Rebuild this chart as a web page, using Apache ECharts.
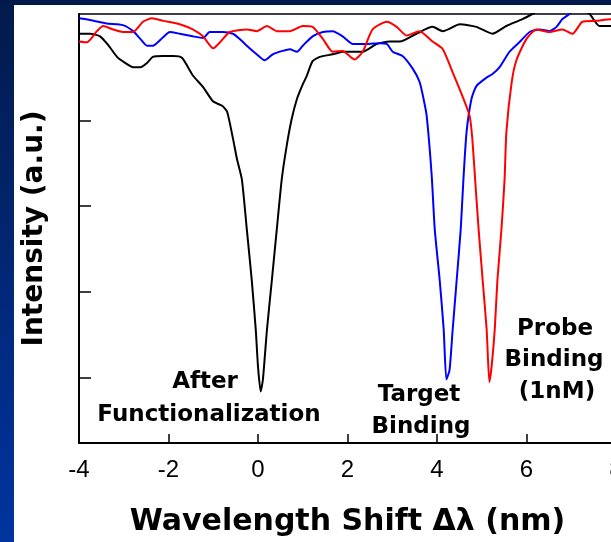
<!DOCTYPE html>
<html>
<head>
<meta charset="utf-8">
<script src="https://cdn.jsdelivr.net/npm/echarts@6.0.0/dist/echarts.min.js"></script>
<style>
  html, body { margin: 0; padding: 0; background: #fff; }
  #chart { width: 611px; height: 542px; }
</style>
</head>
<body>
<div id="chart"></div>
<script>
// wavelength shift (nm) vs intensity (a.u.)
var BLACK_X = [-4.00, -3.75, -3.53, -3.35, -3.15, -2.97, -2.79, -2.63, -2.48, -2.35,
  -2.12, -1.90, -1.70, -1.45, -1.23, -1.00, -0.80, -0.69, -0.56, -0.47,
  -0.36, -0.25, -0.14, -0.05, 0.00, 0.06, 0.11, 0.20, 0.31, 0.42,
  0.53, 0.64, 0.75, 0.87, 1.00, 1.09, 1.22, 1.38, 1.67, 1.89,
  2.34, 2.65, 2.94, 3.17, 3.54, 3.90, 4.13, 4.51, 4.88, 5.24,
  5.55, 5.91, 6.13, 6.40, 6.74, 7.07, 7.41, 7.63, 7.88, 8.01];
var BLACK_Y = [4.77, 4.77, 4.74, 4.64, 4.50, 4.43, 4.38, 4.38, 4.43, 4.50,
  4.51, 4.51, 4.49, 4.28, 4.15, 3.98, 3.93, 3.86, 3.55, 3.31,
  3.07, 2.49, 1.90, 1.32, 0.89, 0.60, 0.74, 1.32, 1.90, 2.49,
  3.07, 3.46, 3.77, 4.01, 4.18, 4.28, 4.45, 4.50, 4.53, 4.56,
  4.56, 4.65, 4.68, 4.68, 4.77, 4.85, 4.80, 4.88, 4.85, 4.77,
  4.86, 4.94, 5.00, 5.08, 5.12, 5.11, 5.00, 4.86, 4.86, 4.86];

var BLUE_X = [-4.00, -3.75, -3.38, -3.02, -2.79, -2.63, -2.48, -2.35, -2.12, -1.97,
  -1.75, -1.46, -1.23, -1.08, -0.79, -0.56, -0.41, -0.25, -0.03, 0.15,
  0.33, 0.55, 0.71, 0.87, 1.00, 1.22, 1.45, 1.67, 1.89, 2.12,
  2.43, 2.72, 2.88, 3.01, 3.23, 3.46, 3.61, 3.70, 3.77, 3.88,
  3.95, 4.06, 4.15, 4.21, 4.28, 4.35, 4.44, 4.53, 4.59, 4.66,
  4.77, 4.88, 5.11, 5.24, 5.40, 5.62, 5.84, 6.07, 6.29, 6.51,
  6.67, 6.80, 6.96, 7.18, 7.52, 8.01];
var BLUE_Y = [4.95, 4.93, 4.89, 4.87, 4.80, 4.71, 4.63, 4.63, 4.73, 4.79,
  4.77, 4.74, 4.72, 4.79, 4.79, 4.77, 4.71, 4.63, 4.53, 4.46,
  4.53, 4.57, 4.59, 4.56, 4.63, 4.74, 4.79, 4.80, 4.74, 4.65,
  4.65, 4.66, 4.65, 4.56, 4.51, 4.36, 4.21, 4.01, 3.81, 3.13,
  2.49, 1.90, 1.32, 0.74, 0.85, 1.32, 1.90, 2.49, 3.07, 3.62,
  4.01, 4.16, 4.26, 4.30, 4.38, 4.56, 4.67, 4.79, 4.82, 4.80,
  4.85, 4.94, 5.00, 5.08, 5.14, 5.15];

var RED_X = [-4.00, -3.82, -3.60, -3.46, -3.24, -3.02, -2.79, -2.57, -2.37, -2.12,
  -1.75, -1.46, -1.23, -1.00, -0.85, -0.63, -0.25, -0.03, 0.20, 0.42,
  0.71, 1.00, 1.22, 1.45, 1.67, 1.89, 2.16, 2.34, 2.56, 2.88,
  3.10, 3.32, 3.61, 3.90, 4.13, 4.35, 4.57, 4.73, 4.79, 4.86,
  4.93, 5.02, 5.11, 5.17, 5.22, 5.29, 5.35, 5.44, 5.51, 5.55,
  5.67, 5.78, 6.00, 6.22, 6.51, 6.80, 7.03, 7.25, 7.56, 7.88, 8.01];
var RED_Y = [4.68, 4.67, 4.80, 4.86, 4.82, 4.79, 4.79, 4.91, 4.95, 4.92,
  4.88, 4.82, 4.74, 4.60, 4.67, 4.79, 4.82, 4.80, 4.86, 4.80,
  4.80, 4.86, 4.85, 4.71, 4.56, 4.57, 4.47, 4.56, 4.82, 4.91,
  4.85, 4.75, 4.80, 4.68, 4.59, 4.32, 4.04, 3.81, 3.54, 3.01,
  2.49, 1.90, 1.32, 0.71, 0.89, 1.32, 1.90, 2.49, 3.07, 3.62,
  4.21, 4.47, 4.71, 4.82, 4.79, 4.82, 4.77, 4.91, 4.92, 4.94, 4.94];

var Y_TICKS = [0.76, 1.76, 2.76, 3.76];

var BOLD = '"DejaVu Sans", sans-serif';

function pairs(xs, ys) {
  var out = [];
  for (var i = 0; i < xs.length; ++i) out.push([xs[i], ys[i]]);
  return out;
}

function curve(xs, ys, color) {
  return {
    type: 'line',
    data: pairs(xs, ys),
    showSymbol: false,
    smooth: 0.2,
    clip: true,
    lineStyle: { color: color, width: 2 },
    animation: false
  };
}

function note(text, x, y) {
  return {
    type: 'text',
    x: x,
    y: y,
    style: {
      text: text,
      fill: '#000',
      font: 'bold 23px ' + BOLD,
      textAlign: 'center',
      textVerticalAlign: 'middle'
    }
  };
}

var chart = echarts.init(document.getElementById('chart'), null, { renderer: 'canvas' });

chart.setOption({
  backgroundColor: '#fff',
  animation: false,
  grid: {
    left: 79, top: 14, width: 537, bottom: 99,
    outerBoundsMode: 'none',
    show: true, borderColor: '#000', borderWidth: 1.5,
    containLabel: false
  },
  xAxis: {
    type: 'value',
    min: -4, max: 8, interval: 2,
    name: 'Wavelength Shift \u0394\u03bb (nm)',
    nameLocation: 'middle',
    nameGap: 64,
    nameTextStyle: { color: '#000', fontFamily: BOLD, fontWeight: 'bold', fontSize: 30 },
    axisLine: { onZero: false, lineStyle: { color: '#000', width: 2 } },
    axisTick: { inside: true, length: 9, lineStyle: { color: '#000', width: 1.5 } },
    axisLabel: {
      color: '#000', fontFamily: '"Liberation Sans", Arial, sans-serif',
      fontSize: 24, margin: 15, showMaxLabel: true, showMinLabel: true
    },
    splitLine: { show: false }
  },
  yAxis: {
    type: 'value',
    min: 0, max: 5,
    name: 'Intensity (a.u.)',
    nameLocation: 'middle',
    nameGap: 30,
    nameTextStyle: { color: '#000', fontFamily: BOLD, fontWeight: 'bold', fontSize: 28 },
    axisLine: { show: true, onZero: false, lineStyle: { color: '#000', width: 2 } },
    axisTick: {
      show: true, inside: true, length: 12, customValues: Y_TICKS,
      lineStyle: { color: '#000', width: 1.5 }
    },
    axisLabel: { show: false },
    splitLine: { show: false }
  },
  series: [
    curve(BLACK_X, BLACK_Y, '#000000'),
    curve(BLUE_X, BLUE_Y, '#0000ff'),
    curve(RED_X, RED_Y, '#ff0000')
  ],
  graphic: [
    { type: 'rect', shape: { x: 0, y: 0, width: 611, height: 5 }, style: { fill: '#021a4b' } },
    {
      type: 'rect', shape: { x: 0, y: 0, width: 14, height: 542 },
      style: {
        fill: new echarts.graphic.LinearGradient(0, 0, 0, 1, [
          { offset: 0, color: '#021a4b' },
          { offset: 1, color: '#0034a0' }
        ])
      }
    },
    note('After', 205, 382),
    note('Functionalization', 209, 415),
    note('Target', 419, 395),
    note('Binding', 421, 427),
    note('Probe', 555, 329),
    note('Binding', 554, 360),
    note('(1nM)', 557, 392)
  ]
});
</script>
</body>
</html>
